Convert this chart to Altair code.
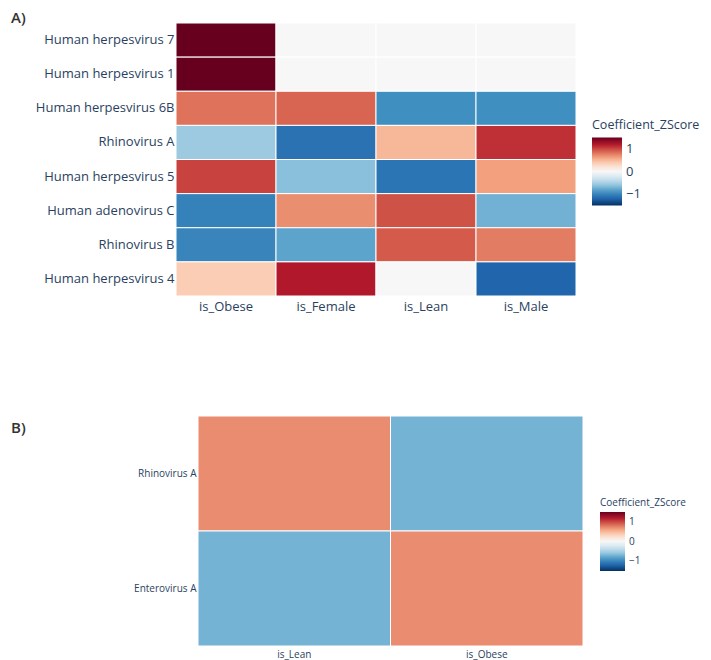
import altair as alt
import pandas as pd

# ---- Panel A data ----
rows_a = ["Human herpesvirus 7", "Human herpesvirus 1", "Human herpesvirus 6B",
          "Rhinovirus A", "Human herpesvirus 5", "Human adenovirus C",
          "Rhinovirus B", "Human herpesvirus 4"]
cols_a = ["is_Obese", "is_Female", "is_Lean", "is_Male"]
z_a = [
    [1.5, 0.0, 0.0, 0.0],
    [1.5, 0.0, 0.0, 0.0],
    [0.82, 0.88, -0.93, -0.93],
    [-0.55, -1.12, 0.5, 1.1],
    [1.02, -0.63, -1.1, 0.62],
    [-1.02, 0.7, 0.96, -0.72],
    [-1.0, -0.8, 0.92, 0.78],
    [0.38, 1.2, 0.0, -1.2],
]

# ---- Panel B data ----
rows_b = ["Rhinovirus A", "Enterovirus A"]
cols_b = ["is_Lean", "is_Obese"]
z_b = [
    [0.71, -0.71],
    [-0.71, 0.71],
]

legend_ticks = [1, 0, -1]

# RdBu_r colour stops
rdbu_colors = ["#053061", "#2166ac", "#4393c3", "#92c5de", "#d1e5f0", "#f7f7f7",
               "#fddbc7", "#f4a582", "#d6604d", "#b2182b", "#67001f"]
zmin, zmax = -1.5, 1.5
stops = [zmin + (zmax - zmin) * i / 10 for i in range(11)]

FONT = "Open Sans"
TXT = "#2a3f5f"


def long_df(rows, cols, z):
    recs = []
    for i, r in enumerate(rows):
        for j, c in enumerate(cols):
            recs.append({"virus": r, "group": c, "z": z[i][j]})
    return pd.DataFrame(recs)


def heat(rows, cols, z, w, h, fs, leg, shift):
    df = long_df(rows, cols, z)
    base = alt.Chart(df).mark_rect(stroke="white", strokeWidth=1).encode(
        x=alt.X("group:N", sort=cols, title=None,
                scale=alt.Scale(paddingInner=0, paddingOuter=0,
                                range=[shift, shift + w]),
                axis=alt.Axis(labelAngle=0, domain=False, ticks=False,
                              labelPadding=leg["xpad"], labelFontSize=fs,
                              labelFont=FONT, labelColor=TXT)),
        y=alt.Y("virus:N", sort=rows, title=None,
                scale=alt.Scale(paddingInner=0, paddingOuter=0),
                axis=alt.Axis(domain=False, ticks=False, labelPadding=2,
                              offset=-shift,
                              labelFontSize=fs, labelFont=FONT, labelColor=TXT,
                              labelLimit=300)),
        color=alt.Color("z:Q", title="Coefficient_ZScore",
                        scale=alt.Scale(domain=stops, range=rdbu_colors,
                                        interpolate="rgb"),
                        legend=alt.Legend(orient="none", direction="vertical",
                                          legendX=leg["x"], legendY=leg["y"],
                                          gradientLength=leg["len"],
                                          gradientThickness=leg["thick"],
                                          gradientStrokeWidth=0,
                                          values=legend_ticks,
                                          titleFont=FONT, titleFontSize=leg["tfs"],
                                          titleFontWeight="normal", titleColor=TXT,
                                          titlePadding=leg["tpad"],
                                          labelFont=FONT, labelFontSize=leg["lfs"],
                                          labelColor=TXT, labelOffset=4)),
    ).properties(width=w + shift, height=h)
    return base


# panel-relative positions (origin = left edge of panel A's plot area)
leg_a = dict(x=416, y=96, len=68, thick=30, tfs=12.5, lfs=13, tpad=6, xpad=4)
leg_b = dict(x=424, y=82, len=59, thick=25, tfs=10, lfs=10, tpad=4, xpad=3)

heat_a = heat(rows_a, cols_a, z_a, 400, 273, 13, leg_a, 0)
heat_b = heat(rows_b, cols_b, z_b, 385, 230, 10, leg_b, 22)

lab_a = alt.Chart(pd.DataFrame({"t": ["A)"]})).mark_text(
    align="left", baseline="top", font=FONT, fontSize=15, fontWeight=600,
    color="#333333").encode(text="t:N", x=alt.value(-165), y=alt.value(-12))
lab_b = alt.Chart(pd.DataFrame({"t": ["B)"]})).mark_text(
    align="left", baseline="middle", font=FONT, fontSize=15, fontWeight=600,
    color="#333333").encode(text="t:N", x=alt.value(-165), y=alt.value(12))

panel_a = alt.layer(heat_a, lab_a)
panel_b = alt.layer(heat_b, lab_b)

chart = alt.vconcat(panel_a, panel_b, spacing=102).properties(
    padding={"top": 3, "left": 3, "right": 0, "bottom": 5}
).resolve_scale(color="independent").configure_view(stroke=None)

chart.save("out.html", embed_options={"renderer": "svg", "actions": False})
